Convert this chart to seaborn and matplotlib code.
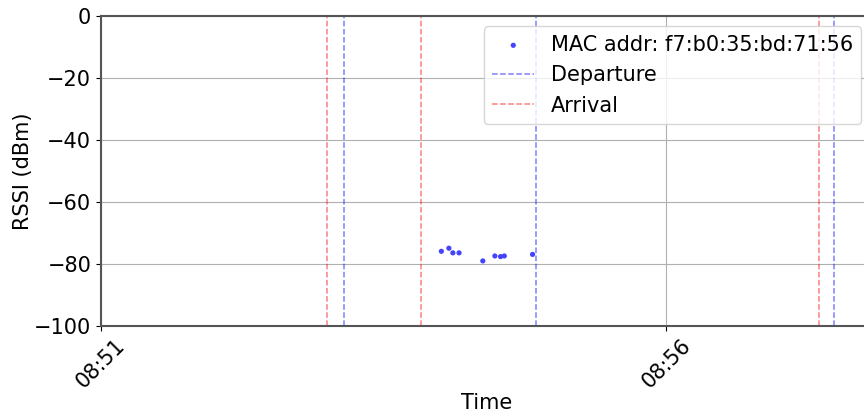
import matplotlib
matplotlib.use("Agg")
import matplotlib.pyplot as plt
import matplotlib.dates as mdates
import pandas as pd
import seaborn as sns

day = "2023-05-10 "
mac = "f7:b0:35:bd:71:56"

# RSSI samples
times = ["08:54:00.6", "08:54:04.6", "08:54:06.7", "08:54:10.0", "08:54:22.6",
         "08:54:29.0", "08:54:32.0", "08:54:34.0", "08:54:49.0"]
rssi = [-75.9, -74.9, -76.4, -76.4, -79.0, -77.4, -77.6, -77.4, -76.9]

departures = ["08:53:09", "08:54:51", "08:57:29"]
arrivals = ["08:53:00", "08:53:50", "08:57:21"]

xlim = ["08:51:00", "08:57:49"]

df = pd.DataFrame({"Time": pd.to_datetime([day + t for t in times], format="mixed"),
                   "RSSI": rssi})

plt.rcParams["font.size"] = 15
fig = plt.figure(figsize=(8.64, 4.16), dpi=100)
ax = fig.add_axes([0.1169, 0.2163, 0.8921, 0.7452])

sns.scatterplot(data=df, x="Time", y="RSSI", ax=ax, color="#4444ff", s=14,
                edgecolor="none", label="MAC addr: " + mac)

for i, t in enumerate(departures):
    ax.axvline(pd.Timestamp(day + t), color="blue", linestyle="--", alpha=0.5,
               linewidth=1.1, label="Departure" if i == 0 else None)
for i, t in enumerate(arrivals):
    ax.axvline(pd.Timestamp(day + t), color="red", linestyle="--", alpha=0.5,
               linewidth=1.1, label="Arrival" if i == 0 else None)

ax.set_ylim(-100, 0)
ax.set_xlim(pd.Timestamp(day + xlim[0]), pd.Timestamp(day + xlim[1]))
ax.xaxis.set_major_locator(mdates.MinuteLocator(byminute=range(1, 60, 5)))
ax.xaxis.set_major_formatter(mdates.DateFormatter("%H:%M"))
plt.setp(ax.get_xticklabels(), rotation=45)
ax.grid(True, color="#b0b0b0", linewidth=0.8)
ax.set_axisbelow(True)
ax.set_xlabel("Time", labelpad=0.5)
ax.set_ylabel("RSSI (dBm)", labelpad=1)
for s in ax.spines.values():
    s.set_color("#555555")
    s.set_linewidth(1.5)

ax.legend(loc="upper right")

fig.savefig("out.png", dpi=100)
